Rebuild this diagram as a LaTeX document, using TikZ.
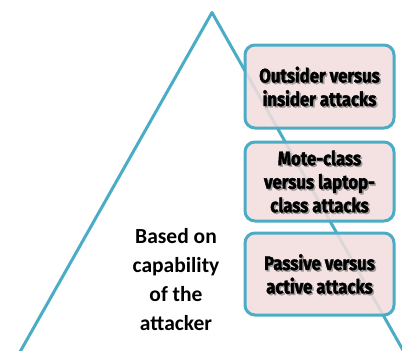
\documentclass[tikz,border=0pt]{standalone}
\usepackage{fontspec}
\setmainfont{Carlito}
\newfontfamily\boxfont{Fira Sans}[FakeStretch=0.86,FakeBold=1.8]
\definecolor{tealline}{RGB}{75,172,198}
\definecolor{boxpink}{RGB}{242,221,221}
\definecolor{shadowgray}{RGB}{130,130,130}
\tikzset{
  px/.style={x=1pt,y=-1pt},
  edge/.style={draw=tealline,line width=3pt,line join=round},
  attackbox/.style={draw=tealline,line width=3pt,fill=boxpink,fill opacity=0.88,
    rounded corners=10pt,rectangle,inner sep=0pt,minimum width=149pt},
  boxlabel/.style={align=center,font=\boxfont\bfseries\fontsize{19.5}{23.5}\selectfont,text=black},
  boxshadow/.style={boxlabel,text=shadowgray,opacity=0.7},
  sidelabel/.style={align=center,font=\bfseries\fontsize{21.5}{29}\selectfont,text=black}
}
\begin{document}
\begin{tikzpicture}[px]
  \useasboundingbox (0,0) rectangle (402,351);
  % outline of the pyramid
  \coordinate (apex) at (212,12.5);
  \coordinate (left foot) at (16,359);
  \coordinate (right foot) at (408,359);
  \begin{scope}
    \clip (0,0) rectangle (402,351);
    \draw[edge] (left foot) -- (apex) -- (right foot);
  \end{scope}
  % the three classes of attack
  \node[attackbox,minimum height=83pt] (outsider) at (319.5,86.5) {};
  \node[attackbox,minimum height=79pt] (mote) at (319.5,181.5) {};
  \node[attackbox,minimum height=82pt] (passive) at (319.5,274) {};
  \node[boxshadow] at ([shift={(1.5,1.5)}]outsider.center) {Outsider versus\\insider attacks};
  \node[boxlabel] (outsiderlabel) at (outsider.center) {Outsider versus\\insider attacks};
  \node[boxshadow] at ([shift={(1.5,1.5)}]mote.center) {Mote-class\\versus laptop-\\class attacks};
  \node[boxlabel] (motelabel) at (mote.center) {Mote-class\\versus laptop-\\class attacks};
  \node[boxshadow] at ([shift={(1.5,1.5)}]passive.center) {Passive versus\\active attacks};
  \node[boxlabel] (passivelabel) at (passive.center) {Passive versus\\active attacks};
  % caption inside the pyramid
  \node[sidelabel] (basis) at (176,280) {Based on\\capability\\of the\\attacker};
\end{tikzpicture}
\end{document}
